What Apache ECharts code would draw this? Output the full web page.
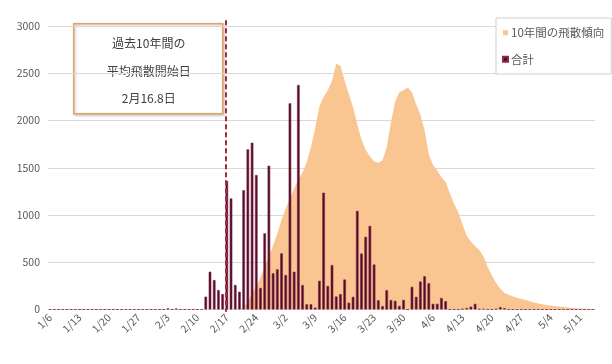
<!DOCTYPE html>
<html>
<head>
<meta charset="utf-8">
<script src="https://cdn.jsdelivr.net/npm/echarts@6/dist/echarts.min.js"></script>
<style>
  html, body { margin: 0; padding: 0; background: #fff; }
  #chart { width: 612px; height: 364px; }
</style>
</head>
<body>
<div id="chart"></div>
<script>
// Daily pollen counts, 1/6 through 5/14 (130 days, leap year)
const startMonth = 1, startDay = 6, dayCount = 130;
const monthLengths = [31, 29, 31, 30, 31];

const dailyTotal = [
  0, 0, 0, 0, 0, 0, 0, 0, 0, 0,
  0, 0, 0, 0, 0, 0, 0, 0, 0, 0,
  0, 0, 0, 0, 0, 0, 0, 0, 12, 0,
  10, 0, 0, 0, 0, 0, 0, 136, 400, 312,
  206, 164, 1360, 1175, 260, 188, 1262, 1695, 1765, 1423,
  228, 806, 1522, 383, 425, 594, 365, 2182, 400, 2376,
  259, 55, 55, 20, 304, 1236, 249, 470, 138, 163,
  317, 72, 134, 1044, 592, 769, 885, 476, 98, 36,
  205, 100, 92, 38, 102, 0, 240, 134, 296, 352,
  278, 60, 60, 122, 88, 0, 0, 0, 8, 16,
  30, 60, 8, 6, 0, 0, 8, 25, 14, 0,
  0, 0, 0, 0, 0, 0, 0, 0, 0, 0,
  0, 0, 0, 0, 0, 0, 0, 0, 0, 0
];

// Ten-year average dispersal trend
const tenYearTrend = [
  0, 0, 0, 0, 0, 0, 0, 0, 0, 0,
  0, 0, 0, 0, 0, 0, 0, 0, 0, 0,
  0, 0, 0, 0, 0, 0, 0, 0, 0, 0,
  0, 0, 0, 0, 0, 0, 0, 0, 0, 0,
  0, 0, 0, 0, 0, 0, 20, 90, 170, 240,
  340, 450, 560, 680, 800, 950, 1070, 1180, 1280, 1380,
  1450, 1560, 1720, 1920, 2150, 2250, 2320, 2420, 2600, 2580,
  2420, 2280, 2140, 1960, 1800, 1690, 1620, 1570, 1550, 1580,
  1720, 1980, 2200, 2300, 2320, 2350, 2300, 2170, 2060, 1900,
  1640, 1530, 1470, 1400, 1350, 1230, 1120, 1030, 900, 780,
  720, 670, 630, 560, 450, 360, 280, 220, 175, 155,
  138, 125, 112, 100, 88, 75, 63, 55, 48, 42,
  37, 32, 27, 22, 17, 13, 10, 8, 6, 5
];

// Average start of dispersal over the past ten years: day index of 2/16.8
const averageStartIndex = 41.8;
// Vertical extent of the start-date marker, in axis units
const markerSpan = [3060, -25];

const yTicks = { min: 0, max: 3000, interval: 500 };

const seriesNames = ['10年間の飛散傾向', '合計'];
const noteLines = ['過去10年間の', '平均飛散開始日', '2月16.8日'];

// Build M/D category labels
const categories = [];
{
  let m = startMonth, d = startDay;
  for (let i = 0; i < dayCount; i++) {
    categories.push(m + '/' + d);
    d++;
    if (d > monthLengths[m - 1]) { d = 1; m++; }
  }
}

const labelColor = '#595959';
const gridColor = '#D9D9D9';
const font = '"Noto Sans CJK JP", "Noto Sans", sans-serif';

const chart = echarts.init(document.getElementById('chart'), null, { renderer: 'canvas' });

chart.setOption({
  animation: false,
  backgroundColor: '#ffffff',
  textStyle: { fontFamily: font },
  grid: { left: 48, right: 17, top: 26, bottom: 54.5, containLabel: false },
  legend: {
    orient: 'vertical',
    left: 496,
    top: 18,
    data: seriesNames,
    icon: 'rect',
    itemWidth: 5,
    itemHeight: 5,
    itemGap: 15,
    padding: [9, 7, 9, 6],
    borderColor: '#CFCFCF',
    borderWidth: 1,
    backgroundColor: '#ffffff',
    textStyle: { color: labelColor, fontSize: 11.5, fontFamily: font, padding: [0, 0, 0, -2] }
  },
  xAxis: [
    {
      type: 'category',
      data: categories,
      boundaryGap: true,
      axisLine: { show: true, lineStyle: { color: gridColor, width: 1 } },
      axisTick: { show: false },
      axisLabel: {
        interval: 6,
        rotate: 45,
        margin: 6,
        color: labelColor,
        fontSize: 10.5,
        fontFamily: font
      },
      splitLine: { show: false }
    },
    {
      // helper axis for placing a fractional day position
      type: 'value',
      min: -0.5,
      max: dayCount - 0.5,
      show: false
    }
  ],
  yAxis: {
    type: 'value',
    min: yTicks.min,
    max: yTicks.max,
    interval: yTicks.interval,
    axisLine: { show: false },
    axisTick: { show: false },
    axisLabel: {
      color: labelColor, fontSize: 10.5, margin: 8, fontFamily: font,
      formatter: v => String(v)
    },
    splitLine: { lineStyle: { color: gridColor, width: 1 } }
  },
  series: [
    {
      name: seriesNames[0],
      type: 'line',
      data: tenYearTrend,
      symbol: 'none',
      showSymbol: false,
      lineStyle: { width: 0, color: '#F9C590' },
      itemStyle: { color: '#F9C590' },
      areaStyle: { color: '#F9C590', opacity: 1 },
      z: 1
    },
    {
      name: seriesNames[1],
      type: 'bar',
      data: dailyTotal,
      barWidth: '62%',
      itemStyle: { color: '#4A0B2B', borderColor: '#8C2A48', borderWidth: 0.6 },
      z: 3
    },
    {
      name: 'start',
      type: 'line',
      xAxisIndex: 1,
      data: markerSpan.map(v => [averageStartIndex, v]),
      clip: false,
      symbol: 'none',
      silent: true,
      lineStyle: { color: '#A8283C', width: 2, type: [5, 3] },
      z: 4
    }
  ],
  graphic: [
    {
      type: 'group',
      left: 73,
      top: 23,
      z: 10,
      children: [
        {
          type: 'rect',
          shape: { x: 0, y: 0, width: 149, height: 90 },
          style: {
            fill: '#ffffff',
            stroke: '#E2A466',
            lineWidth: 1.5,
            shadowBlur: 3,
            shadowOffsetX: 1,
            shadowOffsetY: 1,
            shadowColor: 'rgba(0,0,0,0.25)'
          }
        },
        {
          type: 'text', x: 75, y: 20,
          style: { text: noteLines[0], fill: '#404040', font: '12px ' + font, textAlign: 'center', textVerticalAlign: 'middle' }
        },
        {
          type: 'text', x: 75, y: 48,
          style: { text: noteLines[1], fill: '#404040', font: '12px ' + font, textAlign: 'center', textVerticalAlign: 'middle' }
        },
        {
          type: 'text', x: 75, y: 75,
          style: { text: noteLines[2], fill: '#404040', font: '12px ' + font, textAlign: 'center', textVerticalAlign: 'middle' }
        }
      ]
    }
  ]
});
</script>
</body>
</html>
